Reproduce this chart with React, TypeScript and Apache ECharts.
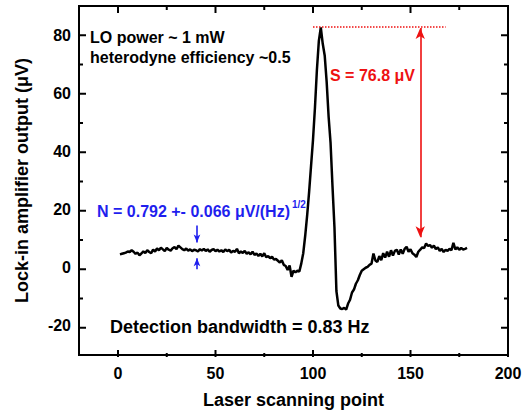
import React, { useEffect, useRef } from "react";
import * as echarts from "echarts";

const FONT = '"Liberation Sans", Arial, Helvetica, sans-serif';

// scan point index of the first sample
const firstScanPoint = 1;
// lock-in output (µV) for each successive scanning point
const signalValues = [
  4.6, 4.8, 5.0, 5.2, 5.6, 5.4, 6.0, 5.5, 4.8, 5.2,
  4.3, 4.9, 5.6, 5.1, 6.0, 5.4, 5.0, 6.2, 5.6, 6.6,
  6.0, 6.9, 6.3, 5.7, 6.8, 6.2, 5.9, 6.7, 7.1, 6.4,
  7.6, 7.0, 6.4, 6.0, 6.6, 5.9, 6.3, 5.7, 6.2, 6.0,
  5.6, 6.4, 5.9, 6.5, 5.8, 6.3, 5.5, 6.1, 6.4, 5.7,
  6.2, 5.6, 6.0, 5.4, 6.3, 5.7, 6.2, 5.2, 5.8, 5.5,
  6.5, 5.0, 5.6, 5.1, 5.8, 4.8, 5.3, 4.6, 5.5, 4.4,
  4.9, 4.1, 4.8, 3.9, 5.0, 3.6, 4.0, 3.3, 3.8, 2.8,
  3.0, 2.4, 1.8, 2.6, 1.0, 0.6, -0.8, 0.8, -3.1, -1.0,
  -1.6, -1.0, -1.3, 1.5, 5, 11, 18, 26, 35, 44,
  55, 68, 78, 82.6, 77, 73, 64, 52, 43, 28,
  14, -8, -13, -14, -14.2, -13.8, -14.4, -12.3, -11, -8.5,
  -7.5, -5.5, -4.3, -2.5, -1, -0.5, 0, 0.3, 1.0, 1.4,
  4.9, 2.5, 2.0, 4.0, 2.6, 5.0, 3.5, 5.5, 3.8, 6.0,
  4.2, 5.8, 6.2, 4.5, 6.3, 4.8, 6.5, 7.2, 5.5, 6.3,
  5.0, 4.5, 3.7, 5.5, 6.2, 7.0, 6.8, 8.3, 7.5, 7.8,
  6.9, 7.6, 6.4, 7.0, 5.8, 6.5, 5.4, 6.2, 5.8, 6.5,
  6.0, 8.6, 6.3, 7.0, 6.2, 6.8, 6.3, 6.5, 6.8,
];

const X_MIN = -20;
const X_MAX = 200;
const Y_MIN = -30;
const Y_MAX = 90;
const xMajorTicks = [0, 50, 100, 150, 200];
const xMinorTicks = [25, 75, 125, 175];
const yMajorTicks = [-20, 0, 20, 40, 60, 80];
const yMinorTicks = [-10, 10, 30, 50, 70];

// annotation geometry in data units
const signalLevel = 83;
const signalLineX = [100, 168];
const signalArrowX = 155;
const signalArrowBottom = 10.5;
const noiseArrowX = 40.5;
const noiseTopArrow = [14.5, 8.7];
const noiseBottomArrow = [-0.5, 3.3];

const BLACK = "#000";
const RED = "#ee1111";
const BLUE = "#1f1fee";

const W = 526;
const H = 414;
const GRID = { left: 79, right: 18, top: 6, bottom: 57 };
const PLOT_W = W - GRID.left - GRID.right;
const PLOT_H = H - GRID.top - GRID.bottom;
const MAJOR_LEN = 7;
const MINOR_LEN = 4;
const TICK_W = 2;

const labelStyle = {
  fontFamily: FONT,
  fontWeight: "bold",
  fontSize: 16,
  color: BLACK,
};

function txt(id: string, x: number, y: number, text: string, size: number, color: string) {
  return {
    id,
    type: "text",
    x,
    y,
    silent: true,
    z: 10,
    style: {
      text,
      fill: color,
      font: `bold ${size}px ${FONT}`,
      align: "left",
      verticalAlign: "middle",
      textAlign: "left",
      textVerticalAlign: "middle",
    },
  };
}

function seg(a: number[], b: number[], lineStyle: any, endSymbol = "none", size: number[] = [0, 0]) {
  return [
    { coord: a, symbol: "none", lineStyle },
    { coord: b, symbol: endSymbol, symbolSize: size },
  ];
}

// linear mapping matching the value axes (used only for frame tick decorations)
const xPx = (v: number) => GRID.left + ((v - X_MIN) / (X_MAX - X_MIN)) * PLOT_W;
const yPx = (v: number) => GRID.top + ((Y_MAX - v) / (Y_MAX - Y_MIN)) * PLOT_H;

function buildTicks() {
  const els: any[] = [];
  let n = 0;
  const bar = (x: number, y: number, w: number, h: number) =>
    els.push({
      id: "tick" + n++,
      type: "rect",
      silent: true,
      z: 30,
      shape: { x, y, width: w, height: h },
      style: { fill: BLACK },
    });
  const top = yPx(Y_MAX);
  const bottom = yPx(Y_MIN);
  const left = xPx(X_MIN);
  const right = xPx(X_MAX);
  const addX = (v: number, len: number) => {
    const x = xPx(v);
    bar(x - TICK_W / 2, bottom - len, TICK_W, len);
    bar(x - TICK_W / 2, top, TICK_W, len);
  };
  const addY = (v: number, len: number) => {
    const y = yPx(v);
    bar(left, y - TICK_W / 2, len, TICK_W);
    bar(right - len, y - TICK_W / 2, len, TICK_W);
  };
  xMajorTicks.forEach((v) => addX(v, MAJOR_LEN));
  xMinorTicks.forEach((v) => addX(v, MINOR_LEN));
  yMajorTicks.forEach((v) => addY(v, MAJOR_LEN));
  yMinorTicks.forEach((v) => addY(v, MINOR_LEN));
  return els;
}

export default function App() {
  const ref = useRef<HTMLDivElement>(null);

  useEffect(() => {
    if (!ref.current) return;
    const chart = echarts.init(ref.current, null, { renderer: "svg" });
    const points = signalValues.map((v, i) => [firstScanPoint + i, v]);

    const annotations = [
      seg([signalLineX[0], signalLevel], [signalLineX[1], signalLevel], { color: RED, width: 1.5, type: [1.5, 1.5] }),
      [
        { coord: [signalArrowX, signalLevel - 0.6], symbol: "arrow", symbolSize: [7, 11], lineStyle: { color: RED, width: 1.6, type: "solid" } },
        { coord: [signalArrowX, signalArrowBottom], symbol: "arrow", symbolSize: [7, 11] },
      ],
      seg([noiseArrowX, noiseTopArrow[0]], [noiseArrowX, noiseTopArrow[1]], { color: BLUE, width: 1.6, type: "solid" }, "arrow", [5, 8]),
      seg([noiseArrowX, noiseBottomArrow[0]], [noiseArrowX, noiseBottomArrow[1]], { color: BLUE, width: 1.6, type: "solid" }, "arrow", [5, 8]),
    ];

    const texts = [
      txt("t1", 90, 37, "LO power ~ 1 mW", 16, BLACK),
      txt("t2", 90, 57, "heterodyne efficiency ~0.5", 16, BLACK),
      txt("t3", 330, 75, "S = 76.8 \u03bcV", 16, RED),
      txt("t4", 97, 211, "N = 0.792 +- 0.066 \u03bcV/(Hz)", 16, BLUE),
      txt("t5", 292, 204, "1/2", 10, BLUE),
      txt("t6", 110, 327, "Detection bandwidth = 0.83 Hz", 18, BLACK),
    ];

    chart.setOption({
      animation: false,
      backgroundColor: "#fff",
      grid: {
        ...GRID,
        containLabel: false,
        show: true,
        borderColor: BLACK,
        borderWidth: 2,
        backgroundColor: "transparent",
      },
      xAxis: {
        type: "value",
        min: X_MIN,
        max: X_MAX,
        splitLine: { show: false },
        axisLine: { show: false },
        axisTick: { show: false },
        axisLabel: { show: true, customValues: xMajorTicks.slice(), margin: 10, ...labelStyle },
        name: "Laser scanning point",
        nameLocation: "middle",
        nameGap: 36,
        nameTextStyle: { fontFamily: FONT, fontWeight: "bold", fontSize: 18, color: BLACK },
      },
      yAxis: {
        type: "value",
        min: Y_MIN,
        max: Y_MAX,
        splitLine: { show: false },
        axisLine: { show: false },
        axisTick: { show: false },
        axisLabel: { show: true, customValues: yMajorTicks.slice(), margin: 8, ...labelStyle },
        name: "Lock-in amplifier output (\u03bcV)",
        nameLocation: "middle",
        nameGap: 48,
        nameTextStyle: { fontFamily: FONT, fontWeight: "bold", fontSize: 18, color: BLACK },
      },
      series: [
        {
          type: "line",
          data: points,
          showSymbol: false,
          symbol: "none",
          lineStyle: { color: BLACK, width: 2.5 },
          silent: true,
          markLine: {
            silent: true,
            animation: false,
            symbol: "none",
            label: { show: false },
            emphasis: { disabled: true },
            data: annotations,
          },
        },
      ],
      graphic: [...texts, ...buildTicks()],
    });

    return () => chart.dispose();
  }, []);

  return (
    <div
      ref={ref}
      style={{ position: "fixed", left: 0, top: 0, width: W, height: H, background: "#fff" }}
    />
  );
}
